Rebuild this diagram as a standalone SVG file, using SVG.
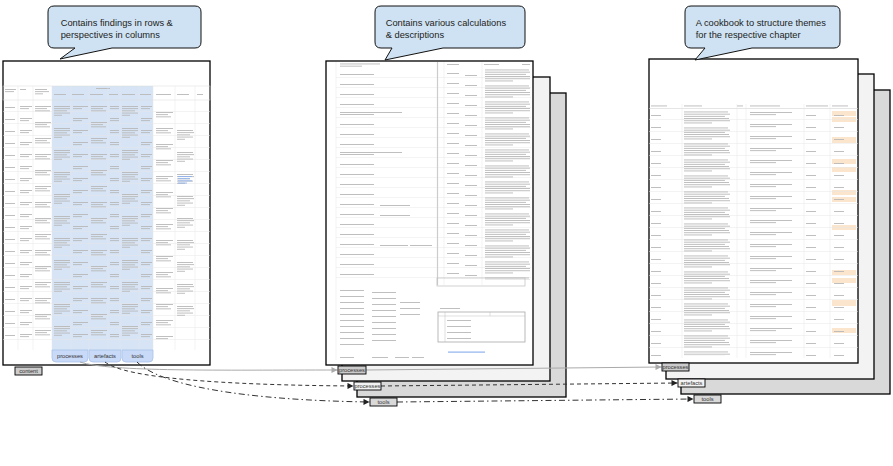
<svg xmlns="http://www.w3.org/2000/svg" width="893" height="466" viewBox="0 0 893 466">
<style>
.t{fill:#b8b8b8}
.page{stroke:#000;stroke-width:1.3}
.callout{fill:#cfe2f3;stroke:#111;stroke-width:1}
.ctext{font-family:"Liberation Sans",Arial,sans-serif;font-size:9.3px;fill:#222}
.lbl{stroke:#000;stroke-width:0.9}
.ltext{font-family:"Liberation Sans",Arial,sans-serif;font-size:5.7px;fill:#333;text-anchor:middle}
.tab{fill:#c9daf8;stroke:#a9c2e8;stroke-width:0.8}
.grid{stroke:#e4e4e4;stroke-width:0.5;fill:none}
.orange{fill:#fce5cd}
.solid{fill:none;stroke:#aaaaaa;stroke-width:1}
.dash{fill:none;stroke:#333;stroke-width:1;stroke-dasharray:4 3}
.dashdot{fill:none;stroke:#333;stroke-width:1;stroke-dasharray:6 3 1.5 3}
</style>
<defs>
<pattern id="pA" width="40" height="12" patternUnits="userSpaceOnUse"><rect class="t" x="0" y="2" width="15" height="0.9"/><rect class="t" x="0" y="4.2" width="9" height="0.9"/></pattern>
<pattern id="pB" width="40" height="22" patternUnits="userSpaceOnUse"><rect class="t" x="0" y="2" width="16" height="0.9"/><rect class="t" x="0" y="4.2" width="17" height="0.9"/><rect class="t" x="0" y="6.4" width="13" height="0.9"/><rect class="t" x="0" y="8.6" width="16" height="0.9"/><rect class="t" x="0" y="10.8" width="8" height="0.9"/></pattern>
<pattern id="pC" width="40" height="16" patternUnits="userSpaceOnUse"><rect class="t" x="0" y="2" width="17" height="0.9"/><rect class="t" x="0" y="4.2" width="12" height="0.9"/><rect class="t" x="0" y="6.4" width="15" height="0.9"/></pattern>
<pattern id="pD" width="40" height="12" patternUnits="userSpaceOnUse"><rect class="t" x="0" y="3" width="10" height="0.9"/></pattern>
<pattern id="pD10" width="40" height="10" patternUnits="userSpaceOnUse"><rect class="t" x="0" y="3" width="12" height="0.9"/></pattern>
<pattern id="pW1" width="60" height="16" patternUnits="userSpaceOnUse"><rect class="t" x="0" y="1.5" width="44" height="0.9"/><rect class="t" x="0" y="3.7" width="46" height="0.9"/><rect class="t" x="0" y="5.9" width="41" height="0.9"/><rect class="t" x="0" y="8.1" width="45" height="0.9"/><rect class="t" x="0" y="10.3" width="46" height="0.9"/><rect class="t" x="0" y="12.5" width="28" height="0.9"/></pattern>
<pattern id="pW2" width="60" height="12" patternUnits="userSpaceOnUse"><rect class="t" x="0" y="2" width="42" height="0.9"/><rect class="t" x="0" y="4.2" width="26" height="0.9"/></pattern>
<pattern id="pW3" width="60" height="10" patternUnits="userSpaceOnUse"><rect class="t" x="0" y="4" width="34" height="0.9"/></pattern>
<pattern id="pW4" width="60" height="6" patternUnits="userSpaceOnUse"><rect class="t" x="0" y="2" width="24" height="0.9"/></pattern>
<pattern id="pR" width="400" height="12" patternUnits="userSpaceOnUse"><rect x="0" y="11.5" width="400" height="0.5" fill="#e6e6e6"/></pattern>
<pattern id="pR10" width="400" height="10" patternUnits="userSpaceOnUse"><rect x="0" y="9.5" width="400" height="0.5" fill="#e8e8e8"/></pattern>
<marker id="arrGrey" viewBox="0 0 10 10" refX="10" refY="5" markerWidth="7" markerHeight="6" markerUnits="userSpaceOnUse" orient="auto"><path d="M0,0 L10,5 L0,10 Z" fill="#aaaaaa"/></marker>
<marker id="arrDark" viewBox="0 0 10 10" refX="10" refY="5" markerWidth="7" markerHeight="6" markerUnits="userSpaceOnUse" orient="auto"><path d="M0,0 L10,5 L0,10 Z" fill="#222"/></marker>
</defs>
<rect width="893" height="466" fill="#fff"/>

<!-- Sheet 1: findings -->
<g id="sheet-findings">
<rect class="page" x="3" y="61" width="207" height="304" fill="#fff"/>
<rect x="52" y="86" width="101" height="264" fill="#d6e4f6"/>
<rect x="3" y="86" width="207" height="14" fill="none" stroke="#dadada" stroke-width="0.5"/>
<rect class="t" x="5" y="89" width="11" height="0.9"/><rect class="t" x="5" y="91.2" width="9" height="0.9"/>
<rect class="t" x="20" y="89" width="6" height="0.9"/>
<rect class="t" x="35" y="89" width="12" height="0.9"/><rect class="t" x="35" y="91.2" width="14" height="0.9"/><rect class="t" x="35" y="93.4" width="8" height="0.9"/>
<rect class="t" x="96" y="88" width="14" height="0.9"/>
<rect class="t" x="54" y="94" width="12" height="0.9"/><rect class="t" x="72" y="94" width="12" height="0.9"/><rect class="t" x="90" y="94" width="13" height="0.9"/><rect class="t" x="109" y="94" width="9" height="0.9"/><rect class="t" x="122" y="94" width="13" height="0.9"/><rect class="t" x="140" y="94" width="11" height="0.9"/><rect class="t" x="156" y="94" width="15" height="0.9"/><rect class="t" x="177" y="94" width="12" height="0.9"/><rect class="t" x="197" y="94" width="6" height="0.9"/>
<rect transform="translate(3,100)" width="207" height="250" fill="url(#pR)"/>
<path class="grid" d="M18,86V350M33,86V350M52,86V350M71,86V350M89,86V350M108,86V350M120,86V350M139,86V350M153,86V350M175,86V350M195,86V350"/>
<rect transform="translate(5,104)" width="12" height="240" fill="url(#pD)"/>
<rect transform="translate(20,104)" width="12" height="240" fill="url(#pA)"/>
<rect transform="translate(35,104)" width="16" height="236" fill="url(#pC)"/>
<rect transform="translate(54,104)" width="16" height="240" fill="url(#pB)"/>
<rect transform="translate(73,104)" width="15" height="240" fill="url(#pA)"/>
<rect transform="translate(91,104)" width="16" height="236" fill="url(#pC)"/>
<rect transform="translate(110,104)" width="9" height="240" fill="url(#pA)"/>
<rect transform="translate(122,104)" width="16" height="240" fill="url(#pB)"/>
<rect transform="translate(141,104)" width="11" height="240" fill="url(#pA)"/>
<rect transform="translate(156,110)" width="18" height="230" fill="url(#pC)"/>
<rect transform="translate(177,128)" width="17" height="200" fill="url(#pB)"/>
<rect x="178" y="176" width="14" height="0.9" fill="#8fb3ee"/><rect x="178" y="178.2" width="12" height="0.9" fill="#8fb3ee"/><rect x="178" y="180.4" width="14" height="0.9" fill="#8fb3ee"/><rect x="178" y="182.6" width="9" height="0.9" fill="#8fb3ee"/>
<path class="tab" d="M52,350H88V358Q88,362 84,362H56Q52,362 52,358Z"/>
<path class="tab" d="M89,350H121V358Q121,362 117,362H93Q89,362 89,358Z"/>
<path class="tab" d="M122,350H153V358Q153,362 149,362H126Q122,362 122,358Z"/>
<text class="ltext" x="70" y="358.3">processes</text>
<text class="ltext" x="105" y="358.3">artefacts</text>
<text class="ltext" x="137.5" y="358.3">tools</text>
</g>

<!-- Sheet 2: calculations -->
<g id="sheet-calculations">
<rect class="page" x="357" y="93" width="209" height="304" fill="#d9d9d9"/>
<rect class="page" x="342" y="77" width="208" height="304" fill="#f3f3f3"/>
<rect class="page" x="326" y="61" width="207" height="304" fill="#fff"/>
<rect class="t" x="340" y="63.5" width="40" height="0.9"/><rect class="t" x="340" y="65.7" width="22" height="0.9"/>
<rect class="t" x="447" y="64" width="12" height="0.9"/><rect class="t" x="484" y="64" width="15" height="0.9"/><rect class="t" x="522" y="64" width="8" height="0.9"/>
<rect transform="translate(336,68)" width="195" height="212" fill="url(#pR10)"/>
<path d="M336,62V360M444,62V285M482,62V285" stroke="#e4e4e4" stroke-width="0.5" fill="none"/>
<path d="M437.5,62V285" stroke="#cccccc" stroke-width="1.2" fill="none"/>
<rect transform="translate(340,70)" width="48" height="210" fill="url(#pW3)"/>
<rect class="t" x="340" y="112" width="62" height="0.9"/><rect class="t" x="340" y="152" width="62" height="0.9"/><rect class="t" x="380" y="205" width="30" height="0.9"/><rect class="t" x="380" y="215" width="30" height="0.9"/><rect class="t" x="380" y="245" width="28" height="0.9"/><rect class="t" x="410" y="245" width="22" height="0.9"/>
<rect transform="translate(447,70)" width="14" height="210" fill="url(#pD10)"/>
<rect transform="translate(465,72)" width="16" height="205" fill="url(#pD10)"/>
<rect transform="translate(485,68)" width="45" height="212" fill="url(#pW1)"/>
<rect x="437" y="278" width="88" height="8" fill="none" stroke="#bdbdbd" stroke-width="0.7"/>
<rect transform="translate(340,288)" width="30" height="62" fill="url(#pW4)"/>
<rect transform="translate(372,290)" width="24" height="52" fill="url(#pW4)"/>
<rect transform="translate(400,300)" width="20" height="18" fill="url(#pW4)"/>
<rect x="438" y="312" width="87" height="30" fill="none" stroke="#a8a8a8" stroke-width="0.8"/>
<path d="M438,316H525M445,312V342M490,312V316" stroke="#bcbcbc" stroke-width="0.5" fill="none"/>
<rect transform="translate(447,318)" width="40" height="22" fill="url(#pW4)"/>
<rect class="t" x="440" y="308" width="20" height="0.9"/>
<rect x="448" y="351.5" width="37" height="1.2" fill="#8fb3ee"/>
<rect class="t" x="340" y="357" width="14" height="0.9"/><rect class="t" x="372" y="357" width="16" height="0.9"/><rect class="t" x="395" y="357" width="14" height="0.9"/><rect class="t" x="412" y="357" width="12" height="0.9"/>
</g>

<!-- Sheet 3: cookbook -->
<g id="sheet-cookbook">
<rect class="page" x="681" y="90" width="209" height="304" fill="#d9d9d9"/>
<rect class="page" x="666" y="74" width="208" height="305" fill="#f3f3f3"/>
<rect class="page" x="649" y="59" width="209" height="304" fill="#fff"/>
<rect class="t" x="651" y="105.5" width="16" height="0.9"/><rect class="t" x="684" y="105.5" width="18" height="0.9"/><rect class="t" x="737" y="105.5" width="6" height="0.9"/><rect class="t" x="750" y="105.5" width="30" height="0.9"/><rect class="t" x="806" y="105.5" width="22" height="0.9"/><rect class="t" x="832" y="105.5" width="16" height="0.9"/>
<path d="M649,108.5H858" stroke="#d4d4d4" stroke-width="0.6"/>
<rect class="orange" x="832" y="111" width="24" height="5"/><rect class="orange" x="832" y="117" width="24" height="5"/><rect class="orange" x="832" y="137" width="24" height="6"/><rect class="orange" x="832" y="159" width="24" height="5"/><rect class="orange" x="832" y="167" width="24" height="5"/><rect class="orange" x="832" y="190" width="24" height="5"/><rect class="orange" x="832" y="197" width="24" height="5"/><rect class="orange" x="832" y="225" width="24" height="5"/><rect class="orange" x="832" y="270" width="24" height="5"/><rect class="orange" x="832" y="278" width="24" height="5"/><rect class="orange" x="832" y="300" width="24" height="6"/><rect class="orange" x="832" y="328" width="24" height="5"/>
<rect transform="translate(649,108)" width="209" height="250" fill="url(#pR)"/>
<path class="grid" d="M682,104V358M737,104V358M746,104V358M804,104V358M830,104V358"/>
<rect transform="translate(651,112)" width="28" height="245" fill="url(#pD)"/>
<rect transform="translate(684,110)" width="50" height="246" fill="url(#pW1)"/>
<rect transform="translate(750,110)" width="50" height="246" fill="url(#pW2)"/>
<rect transform="translate(806,112)" width="22" height="245" fill="url(#pD)"/>
<rect transform="translate(834,112)" width="20" height="245" fill="url(#pD)"/>
</g>

<!-- Callouts -->
<g id="callout-findings">
<path class="callout" d="M54,6H195Q201,6 201,12V42Q201,48 195,48H112L60,59L75,48H54Q48,48 48,42V12Q48,6 54,6Z"/>
<text class="ctext" x="60.7" y="26">Contains findings in rows &amp;</text>
<text class="ctext" x="60.7" y="37.5">perspectives in columns</text>
</g>
<g id="callout-calculations">
<path class="callout" d="M381,6H519Q525,6 525,12V42Q525,48 519,48H443L385,60L392,48H381Q375,48 375,42V12Q375,6 381,6Z"/>
<text class="ctext" x="385.7" y="26">Contains various calculations</text>
<text class="ctext" x="385.7" y="37.5">&amp; descriptions</text>
</g>
<g id="callout-cookbook">
<path class="callout" d="M691,6H834Q840,6 840,12V42Q840,48 834,48H752L695,60L705,48H691Q685,48 685,42V12Q685,6 691,6Z"/>
<text class="ctext" x="695.7" y="26">A cookbook to structure themes</text>
<text class="ctext" x="695.7" y="37.5">for the respective chapter</text>
</g>

<!-- Connectors -->
<g id="connectors">
<path class="solid" d="M80,362C110,372 220,370 337.5,370" marker-end="url(#arrGrey)"/>
<path class="solid" d="M366,370L661.5,367" marker-end="url(#arrGrey)"/>
<path class="dash" d="M105,362C125,378 220,385 353.5,386" marker-end="url(#arrDark)"/>
<path class="dash" d="M381,386L677.5,383" marker-end="url(#arrDark)"/>
<path class="dashdot" d="M137,362C160,385 240,400 369.5,402" marker-end="url(#arrDark)"/>
<path class="dashdot" d="M397,402L693.5,399" marker-end="url(#arrDark)"/>
</g>

<!-- Labels -->
<g id="label-content"><rect class="lbl" x="15" y="367" width="27" height="8" fill="#cccccc"/><text class="ltext" x="28.5" y="373">content</text></g>
<g id="label-calc-processes"><rect class="lbl" x="338" y="366" width="28" height="8" fill="#cccccc"/><text class="ltext" x="352" y="372">processes</text></g>
<g id="label-calc-processes-2"><rect class="lbl" x="354" y="382" width="27" height="8" fill="#f3f3f3"/><text class="ltext" x="367.5" y="388">processes</text></g>
<g id="label-calc-tools"><rect class="lbl" x="370" y="398" width="27" height="8" fill="#d9d9d9"/><text class="ltext" x="383.5" y="404">tools</text></g>
<g id="label-cook-processes"><rect class="lbl" x="662" y="363" width="27" height="8" fill="#cccccc"/><text class="ltext" x="675.5" y="369">processes</text></g>
<g id="label-cook-artefacts"><rect class="lbl" x="678" y="379" width="27" height="8" fill="#f3f3f3"/><text class="ltext" x="691.5" y="385">artefacts</text></g>
<g id="label-cook-tools"><rect class="lbl" x="694" y="395" width="27" height="8" fill="#d9d9d9"/><text class="ltext" x="707.5" y="401">tools</text></g>
</svg>
